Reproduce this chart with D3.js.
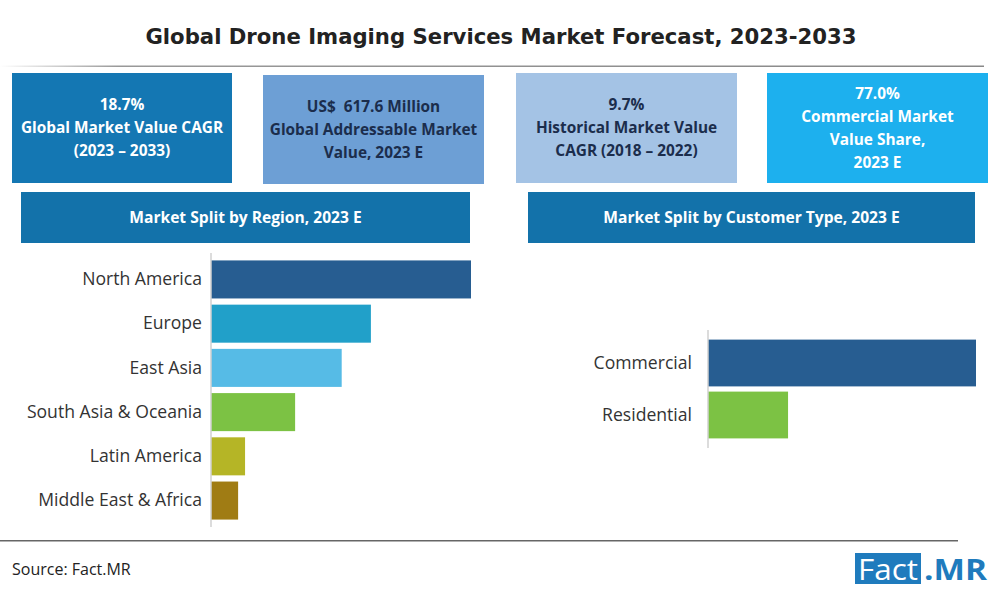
<!DOCTYPE html>
<html>
<head>
<meta charset="utf-8">
<script src="https://cdn.jsdelivr.net/npm/d3@7"></script>
<style>
  html, body { margin: 0; padding: 0; background: #fff; }
  svg { display: block; }
</style>
</head>
<body>
<svg id="chart" width="1000" height="600"></svg>
<script>
// ---- data ----
const title = "Global Drone Imaging Services Market Forecast, 2023-2033";
const statLines = [
  ["18.7%", "Global Market Value CAGR", "(2023 \u2013 2033)"],
  ["US$  617.6 Million", "Global Addressable Market", "Value, 2023 E"],
  ["9.7%", "Historical Market Value", "CAGR (2018 \u2013 2022)"],
  ["77.0%", "Commercial Market", "Value Share,", "2023 E"]
];
const sectionTitles = ["Market Split by Region, 2023 E", "Market Split by Customer Type, 2023 E"];
const regions = ["North America", "Europe", "East Asia", "South Asia & Oceania", "Latin America", "Middle East & Africa"];
const regionShare = [37.4, 23.0, 18.8, 12.1, 4.9, 3.9];
const customerTypes = ["Commercial", "Residential"];
const customerShare = [77.0, 23.0];
const sourceText = "Source: Fact.MR";

// ---- styles ----
const regionColors = ["#275d91", "#21a0c9", "#56bbe6", "#7cc244", "#b5b526", "#a07c14"];
const customerColors = ["#275d91", "#7cc244"];
const boxFill = ["#1477b3", "#6d9fd5", "#a4c3e5", "#1db0ee"];
const boxText = ["#ffffff", "#1b2d4c", "#1b2d4c", "#ffffff"];
const boxRects = [
  {x: 12, y: 73, w: 220, h: 110},
  {x: 263, y: 75, w: 221, h: 109},
  {x: 516, y: 73, w: 221, h: 110},
  {x: 767, y: 73, w: 221, h: 110}
];
const headerRects = [
  {x: 21, y: 192, w: 449, h: 51},
  {x: 528, y: 192, w: 447, h: 51}
];

const svg = d3.select("#chart");
const boxFont = "'Open Sans', 'DejaVu Sans', sans-serif";

// title
svg.append("text")
  .attr("x", 501).attr("y", 44)
  .attr("text-anchor", "middle")
  .attr("font-family", "'DejaVu Sans', sans-serif")
  .attr("font-weight", "bold")
  .attr("font-size", 21.2)
  .attr("fill", "#222")
  .text(title);

// gradient divider under title
const defs = svg.append("defs");
const grad = defs.append("linearGradient").attr("id", "fade").attr("x1", "0").attr("x2", "1");
grad.append("stop").attr("offset", "0").attr("stop-color", "#999").attr("stop-opacity", 0);
grad.append("stop").attr("offset", "0.12").attr("stop-color", "#999").attr("stop-opacity", 1);
grad.append("stop").attr("offset", "1").attr("stop-color", "#888").attr("stop-opacity", 1);
svg.append("rect").attr("x", 0).attr("y", 65.5).attr("width", 984).attr("height", 1.5).attr("fill", "url(#fade)");

// stat boxes
const boxes = svg.selectAll("g.box").data(statLines).join("g").attr("class", "box");
boxes.append("rect")
  .attr("x", (d, i) => boxRects[i].x).attr("y", (d, i) => boxRects[i].y)
  .attr("width", (d, i) => boxRects[i].w).attr("height", (d, i) => boxRects[i].h)
  .attr("fill", (d, i) => boxFill[i]);
boxes.each(function(lines, i) {
  const r = boxRects[i];
  const lh = 23;
  const cy = r.y + r.h / 2;
  const y0 = cy - (lines.length - 1) * lh / 2;
  d3.select(this).selectAll("text").data(lines).join("text")
    .attr("x", r.x + r.w / 2)
    .attr("y", (d, j) => y0 + j * lh)
    .attr("dy", "0.35em")
    .attr("text-anchor", "middle")
    .attr("font-family", boxFont)
    .attr("font-weight", "bold")
    .attr("font-size", 15.4)
    .attr("fill", boxText[i])
    .style("white-space", "pre")
    .text(d => d);
});

// section headers
const heads = svg.selectAll("g.head").data(sectionTitles).join("g").attr("class", "head");
heads.append("rect")
  .attr("x", (d, i) => headerRects[i].x).attr("y", (d, i) => headerRects[i].y)
  .attr("width", (d, i) => headerRects[i].w).attr("height", (d, i) => headerRects[i].h)
  .attr("fill", "#1372aa");
heads.append("text")
  .attr("x", (d, i) => headerRects[i].x + headerRects[i].w / 2)
  .attr("y", (d, i) => headerRects[i].y + headerRects[i].h / 2)
  .attr("dy", "0.35em")
  .attr("text-anchor", "middle")
  .attr("font-family", boxFont)
  .attr("font-weight", "bold")
  .attr("font-size", 15.6)
  .attr("fill", "#fff")
  .text(d => d);

// ---- region bar chart ----
const rx = d3.scaleLinear().domain([0, regionShare[0]]).range([211, 471]);
const ry = d3.scaleBand().domain(regions).range([256, 524]).paddingInner(0.14).paddingOuter(0.1);
const gR = svg.append("g");
gR.selectAll("rect").data(regions).join("rect")
  .attr("x", rx(0))
  .attr("y", d => ry(d))
  .attr("width", (d, i) => rx(regionShare[i]) - rx(0))
  .attr("height", ry.bandwidth())
  .attr("fill", (d, i) => regionColors[i]);
const axL = svg.append("g").attr("transform", `translate(${rx(0)},0)`)
  .call(d3.axisLeft(ry).tickSize(0).tickPadding(9));
axL.select(".domain").attr("stroke", "#d0d0d0").attr("stroke-width", 1.5).attr("d", "M0,253V527");
axL.selectAll("text").attr("font-family", boxFont).attr("font-size", 17.6).attr("fill", "#333");

// ---- customer bar chart ----
const cx = d3.scaleLinear().domain([0, customerShare[0]]).range([708, 976]);
const cy = d3.scaleBand().domain(customerTypes).range([337, 441]).paddingInner(0.1).paddingOuter(0.05);
svg.append("g").selectAll("rect").data(customerTypes).join("rect")
  .attr("x", cx(0))
  .attr("y", d => cy(d))
  .attr("width", (d, i) => cx(customerShare[i]) - cx(0))
  .attr("height", cy.bandwidth())
  .attr("fill", (d, i) => customerColors[i]);
const axC = svg.append("g").attr("transform", `translate(${cx(0)},0)`)
  .call(d3.axisLeft(cy).tickSize(0).tickPadding(16));
axC.select(".domain").attr("stroke", "#d0d0d0").attr("stroke-width", 1.5).attr("d", "M0,330V448");
axC.selectAll("text").attr("font-family", boxFont).attr("font-size", 17.6).attr("fill", "#333");

// ---- footer ----
svg.append("rect").attr("x", 0).attr("y", 540).attr("width", 958).attr("height", 1.5).attr("fill", "#666");
svg.append("text")
  .attr("x", 12).attr("y", 575)
  .attr("font-family", "'Liberation Sans Narrow', 'Open Sans', sans-serif")
  .attr("font-size", 16)
  .attr("fill", "#222")
  .text(sourceText);

// logo
const logo = svg.append("g");
logo.append("rect").attr("x", 855).attr("y", 553).attr("width", 66).attr("height", 31).attr("fill", "#1f7bbd");
logo.append("text").attr("x", 858).attr("y", 580)
  .attr("font-family", "'Open Sans', sans-serif").attr("font-size", 29)
  .attr("textLength", 60).attr("lengthAdjust", "spacingAndGlyphs")
  .attr("fill", "#fff").text("Fact");
logo.append("text").attr("x", 924).attr("y", 580)
  .attr("font-family", "'Open Sans', sans-serif").attr("font-weight", "bold").attr("font-size", 29)
  .attr("textLength", 63).attr("lengthAdjust", "spacingAndGlyphs")
  .attr("fill", "#1f7bbd").text(".MR");
</script>
</body>
</html>
